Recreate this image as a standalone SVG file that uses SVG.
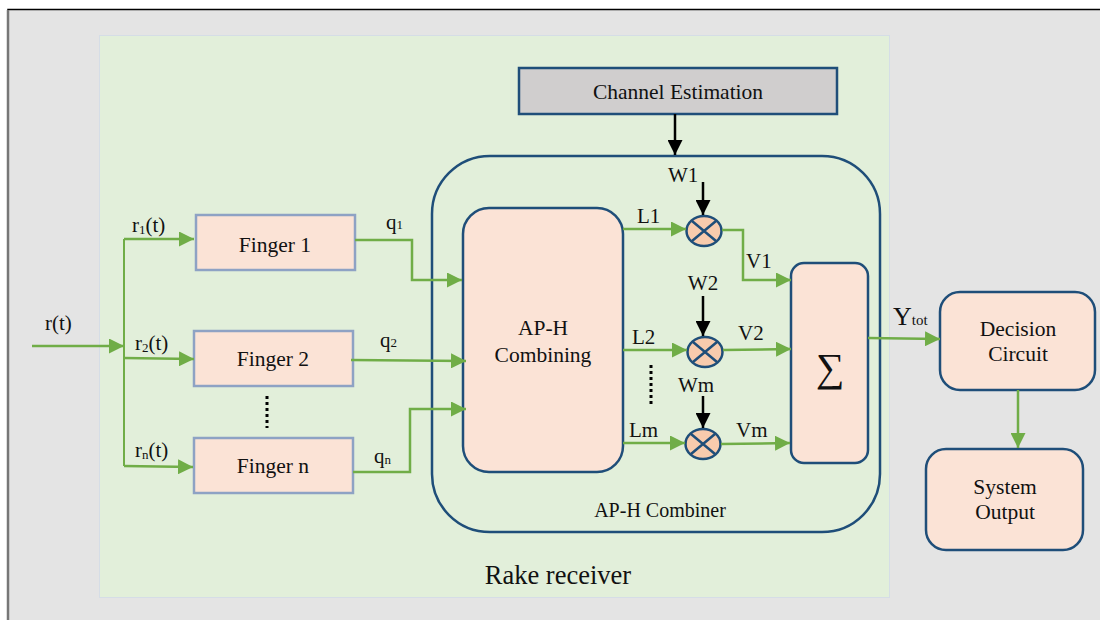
<svg xmlns="http://www.w3.org/2000/svg" width="1100" height="620" viewBox="0 0 1100 620">
<defs>
<marker id="ag" viewBox="0 0 10 10" refX="10" refY="5" markerWidth="6" markerHeight="6" markerUnits="strokeWidth" orient="auto"><path d="M0,0 L10,5 L0,10 z" fill="#70ad47"/></marker>
<marker id="ak" viewBox="0 0 10 10" refX="10" refY="5" markerWidth="6" markerHeight="6" markerUnits="strokeWidth" orient="auto"><path d="M0,0 L10,5 L0,10 z" fill="#000"/></marker>
</defs>
<style>
text{fill:#111}
.g{stroke:#70ad47;stroke-width:2.5;fill:none;marker-end:url(#ag)}
.gl{stroke:#70ad47;stroke-width:2;fill:none}
.k{stroke:#000;stroke-width:2.5;fill:none;marker-end:url(#ak)}
.fin{fill:#fbe3d6;stroke:#8ea2c4;stroke-width:2.5}
.blk{fill:#fbe3d6;stroke:#1f4e79;stroke-width:2.5}
.mul{fill:#f8cbad;stroke:#1f4e79;stroke-width:2.5}
.t18{font-size:21.5px;text-anchor:middle}
.lab{font-size:21px}
</style>
<rect x="0" y="0" width="1100" height="620" fill="#fff"/>
<rect x="8" y="9.5" width="1100" height="620" fill="#e4e4e4" stroke="#000" stroke-width="1.5"/>
<line x1="8" y1="10" x2="8" y2="620" stroke="#777" stroke-width="2.5"/>
<rect id="rake" x="99.5" y="35.5" width="790" height="562" fill="#e2efda" stroke="#d5dde6" stroke-width="1"/>
<g font-family="Liberation Serif, Tinos, Times New Roman, DejaVu Serif, serif">
<text x="558" y="584" style="font-size:26.5px;text-anchor:middle">Rake receiver</text>

<g id="combiner"><rect x="432" y="156" width="448" height="376" rx="58" ry="58" fill="none" stroke="#1f4e79" stroke-width="2.5"/>
<text x="660" y="517" style="font-size:20px;text-anchor:middle">AP-H Combiner</text></g>

<g id="channel"><rect x="519" y="68" width="318" height="46" fill="#d0cece" stroke="#1f4e79" stroke-width="2.5"/>
<text x="678" y="99" class="t18">Channel Estimation</text></g>

<g id="finger1"><rect x="196" y="215" width="159" height="55" class="fin"/><text x="275" y="252" class="t18">Finger 1</text></g>
<g id="finger2"><rect x="194" y="331" width="159" height="55" class="fin"/><text x="273" y="366" class="t18">Finger 2</text></g>
<g id="fingern"><rect x="194" y="438" width="159" height="55" class="fin"/><text x="273" y="473" class="t18">Finger n</text></g>

<g id="aph"><rect x="463" y="208" width="160" height="264" rx="26" ry="26" class="blk"/>
<text x="543" y="335" class="t18">AP-H</text><text x="543" y="362" class="t18">Combining</text></g>

<g id="mul1"><ellipse cx="704" cy="231" rx="17.5" ry="15" class="mul"/><path d="M692,221 L716,241 M716,221 L692,241" stroke="#1f4e79" stroke-width="2.5"/></g>
<g id="mul2"><ellipse cx="705" cy="352" rx="17.5" ry="15" class="mul"/><path d="M693,342 L717,362 M717,342 L693,362" stroke="#1f4e79" stroke-width="2.5"/></g>
<g id="mulm"><ellipse cx="703" cy="444" rx="17.5" ry="15" class="mul"/><path d="M691,434 L715,454 M715,434 L691,454" stroke="#1f4e79" stroke-width="2.5"/></g>

<g id="sum"><rect x="791" y="263" width="77" height="200" rx="13" ry="13" class="blk"/>
<text x="830" y="381" style="font-size:40px;text-anchor:middle">∑</text></g>

<g id="decision"><rect x="940" y="292" width="155" height="98" rx="20" ry="20" class="blk"/>
<text x="1018" y="336" class="t18">Decision</text><text x="1018" y="361" class="t18">Circuit</text></g>
<g id="output"><rect x="926" y="449" width="157" height="101" rx="20" ry="20" class="blk"/>
<text x="1005" y="494" class="t18">System</text><text x="1005" y="519" class="t18">Output</text></g>

<g id="connectors">
<path d="M32,346 L124,346" class="g"/>
<path d="M124,239 L124,466" class="gl"/>
<path d="M124,239 L194,239" class="g"/>
<path d="M124,358 L194,359" class="g"/>
<path d="M124,466 L193,467" class="g"/>
<path d="M355,240 L412,240 L412,280 L462,280" class="g"/>
<path d="M351,360 L466,361" class="g"/>
<path d="M353,472 L410,472 L410,409 L466,409" class="g"/>
<path d="M675,114 L675,155" class="k"/>
<path d="M703,182 L703,215" class="k"/>
<path d="M703,296 L703,336" class="k"/>
<path d="M703,396 L703,428" class="k"/>
<path d="M623,229 L686,229" class="g"/>
<path d="M623,350 L687,350" class="g"/>
<path d="M623,443 L685,443" class="g"/>
<path d="M722,230 L743,230 L743,280 L791,280" class="g"/>
<path d="M723,350 L791,349" class="g"/>
<path d="M721,444 L790,443" class="g"/>
<path d="M868,338 L940,339" class="g"/>
<path d="M1018,390 L1018,448" class="g"/>
<path d="M267,396 L267,428" stroke="#000" stroke-width="3" stroke-dasharray="3,3"/>
<path d="M651,365 L651,406" stroke="#000" stroke-width="3" stroke-dasharray="3,3"/>
</g>

<g id="labels">
<text x="45" y="330" class="lab">r(t)</text>
<text x="132" y="232" class="lab">r<tspan font-size="13" dy="2">1</tspan><tspan dy="-2">(t)</tspan></text>
<text x="135" y="350" class="lab">r<tspan font-size="13" dy="2">2</tspan><tspan dy="-2">(t)</tspan></text>
<text x="135" y="457" class="lab">r<tspan font-size="13" dy="2">n</tspan><tspan dy="-2">(t)</tspan></text>
<text x="386" y="229" class="lab">q<tspan font-size="13">1</tspan></text>
<text x="380" y="347" class="lab">q<tspan font-size="13">2</tspan></text>
<text x="374" y="463" class="lab">q<tspan font-size="13" dy="1">n</tspan></text>
<text x="668" y="182" class="lab">W1</text>
<text x="703" y="290" class="lab" text-anchor="middle">W2</text>
<text x="696" y="392" class="lab" text-anchor="middle">Wm</text>
<text x="637" y="223" class="lab">L1</text>
<text x="632" y="344" class="lab">L2</text>
<text x="629" y="437" class="lab">Lm</text>
<text x="746" y="268" class="lab">V1</text>
<text x="738" y="340" class="lab">V2</text>
<text x="736" y="437" class="lab">Vm</text>
<text x="893" y="325" style="font-size:26px">Y<tspan font-size="15">tot</tspan></text>
</g>
</g>
</svg>
